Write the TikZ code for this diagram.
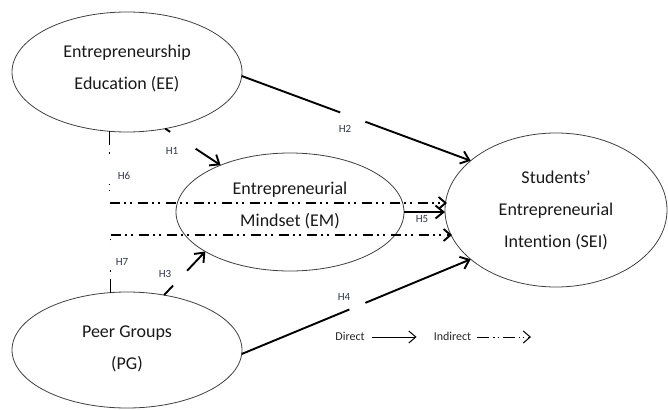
\documentclass[tikz,border=0pt]{standalone}
\usepackage{fontspec}
\setmainfont{Carlito}[Ligatures={NoCommon,NoRequired,NoContextual}]
\usetikzlibrary{arrows.meta,shapes.geometric,calc}
\definecolor{labcol}{RGB}{45,55,75}
\begin{document}
\begin{tikzpicture}[x=1pt,y=-1pt,
  ell/.style={draw=black!75, line width=0.8pt, ellipse, inner sep=0pt, outer sep=0pt},
  big/.style={font=\fontsize{18}{32}\selectfont, align=center, text=black!90, inner sep=0pt},
  hlab/.style={font=\fontsize{11}{12}\selectfont, text=labcol, inner sep=0pt},
  leglab/.style={font=\fontsize{12}{13}\selectfont, text=black!85, inner sep=0pt},
  plain/.style={line width=1.9pt},
  direct/.style={line width=1.9pt, -{Straight Barb[length=8pt,width=13pt]}},
  indirect/.style={line width=1.9pt, dash pattern=on 10pt off 4pt on 2pt off 4pt on 2pt off 6pt,
    -{Straight Barb[length=7pt,width=12pt]}},
  riser/.style={line width=1pt, dash pattern=on 14pt off 7pt on 1.2pt off 30pt on 1.2pt off 5pt on 1.2pt off 60pt},
  legdirect/.style={line width=1pt, -{Straight Barb[length=7pt,width=12pt]}},
  legindirect/.style={line width=1pt, dash pattern=on 12pt off 4pt on 1.2pt off 3pt on 1.2pt off 4pt,
    -{Straight Barb[length=7pt,width=12pt]}}
]
\useasboundingbox (0,0) rectangle (668,409);

% ellipses
\node[ell, minimum width=230pt, minimum height=120pt] (EE) at (127,72) {};
\node[ell, minimum width=228pt, minimum height=118pt] (EM) at (290,212) {};
\node[ell, minimum width=222pt, minimum height=154pt] (SEI) at (556,210) {};
\node[ell, minimum width=230pt, minimum height=116pt] (PG) at (127,350) {};

% texts
\node[big] (EEt) at (127,68) {Entrepreneurship\\Education (EE)};
\node[big] (EMt) at (290,205.5) {Entrepreneurial\\Mindset (EM)};
\node[big] (SEIt) at (556,210.5) {Students’\\Entrepreneurial\\Intention (SEI)};
\node[big] (PGt) at (127,349) {Peer Groups\\(PG)};

% H1
\draw[plain] (EE.-56) -- ($(EE.-56)!0.09!(EM.146)$);
\draw[direct] ($(EE.-56)!0.55!(EM.146)$) -- (EM.146);
\node[hlab] (H1) at (172,151) {H1};
% H2
\draw[plain] (EE.-2) -- ($(EE.-2)!0.43!(SEI.150)$);
\draw[direct] ($(EE.-2)!0.54!(SEI.150)$) -- (SEI.150);
\node[hlab] (H2) at (345,129) {H2};
% H3
\draw[plain] (PG.56) -- ($(PG.56)!0.22!(EM.205)$);
\draw[direct] ($(PG.56)!0.56!(EM.205)$) -- (EM.205);
\node[hlab] (H3) at (165,274) {H3};
% H4
\draw[plain] (PG.-2) -- ($(PG.-2)!0.47!(SEI.210)$);
\draw[direct] ($(PG.-2)!0.54!(SEI.210)$) -- (SEI.210);
\node[hlab] (H4) at (344,297) {H4};
% H5
\draw[direct] (EM.east) -- (EM.east -| SEI.west);
\node[hlab] (H5) at (422,219) {H5};

% H6
\coordinate (h6e) at ([xshift=2pt,yshift=7pt]SEI.west);
\draw[riser] (EE.-106) -- (EE.-106 |- h6e);
\draw[indirect] (EE.-106 |- h6e) -- (h6e);
\node[hlab] (H6) at (124,176) {H6};
% H7
\coordinate (h7e) at ([xshift=7pt,yshift=-25pt]SEI.west);
\draw[riser] (PG.106) -- (PG.106 |- h7e);
\draw[indirect] (PG.106 |- h7e) -- (h7e);
\node[hlab] (H7) at (122,262) {H7};

% legend
\node[leglab] (Ldir) at (350,336) {Direct};
\node[leglab] (Lind) at (452.5,336) {Indirect};
\draw[legdirect] ([xshift=7pt,yshift=-1pt]Ldir.east) -- ([xshift=-17pt,yshift=-1pt]Lind.west);
\coordinate (Lend) at (531,337);
\draw[legindirect] ([xshift=6pt,yshift=-1pt]Lind.east) -- (Lend);
\end{tikzpicture}
\end{document}
